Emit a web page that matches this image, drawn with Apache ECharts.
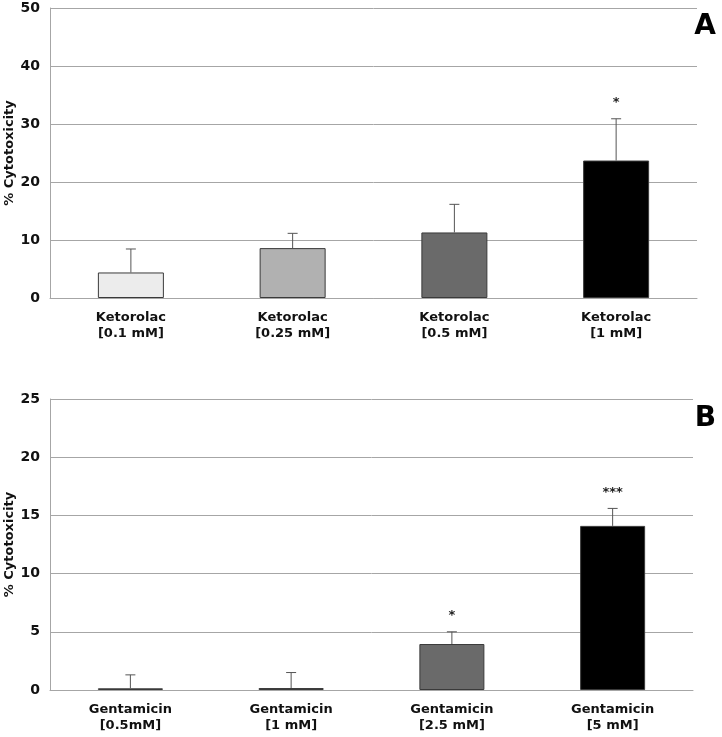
<!DOCTYPE html>
<html>
<head>
<meta charset="utf-8">
<script src="https://cdn.jsdelivr.net/npm/echarts@6/dist/echarts.min.js"></script>
<style>html,body{margin:0;padding:0;background:#fff;}#c{width:722px;height:737px;}</style>
</head>
<body>
<div id="c"></div>
<script>
// Panel A
var catsA = ['Ketorolac\n[0.1 mM]', 'Ketorolac\n[0.25 mM]', 'Ketorolac\n[0.5 mM]', 'Ketorolac\n[1 mM]'];
var valsA = [4.4, 8.6, 11.3, 23.7];
var errA = [4.05, 2.55, 4.85, 7.2];
var starsA = ['', '', '', '*'];
var ticksA = [0, 10, 20, 30, 40, 50];
// Panel B
var catsB = ['Gentamicin\n[0.5mM]', 'Gentamicin\n[1 mM]', 'Gentamicin\n[2.5 mM]', 'Gentamicin\n[5 mM]'];
var valsB = [0.15, 0.17, 3.95, 14.1];
var errB = [1.15, 1.33, 1.05, 1.5];
var starsB = ['', '', '*', '***'];
var ticksB = [0, 5, 10, 15, 20, 25];
var barColors = ['#ececec', '#b1b1b1', '#6a6a6a', '#000000'];

var FONT = 'DejaVu Sans';

function barData(vals) {
  return vals.map(function (v, i) {
    return { value: v, itemStyle: { color: barColors[i] } };
  });
}
function errData(vals, errs, stars) {
  return vals.map(function (v, i) { return [i, v, v + errs[i], stars[i]]; });
}
var stars = { A: starsA, B: starsB };
function renderErr(params, api) {
  var i = api.value(0);
  var p0 = api.coord([i, api.value(1)]);
  var p1 = api.coord([i, api.value(2)]);
  var star = stars[params.seriesIndex === 1 ? 'A' : 'B'][params.dataIndex];
  var children = [
    { type: 'line', shape: { x1: p0[0], y1: p0[1], x2: p1[0], y2: p1[1] }, style: { stroke: '#555', lineWidth: 1 } },
    { type: 'line', shape: { x1: p1[0] - 5, y1: p1[1], x2: p1[0] + 5, y2: p1[1] }, style: { stroke: '#555', lineWidth: 1 } }
  ];
  if (star) {
    children.push({ type: 'text', style: { x: p1[0], y: p1[1] - 16, text: star, fill: '#222', font: 'bold 13px "' + FONT + '"', align: 'center', verticalAlign: 'middle' } });
  }
  return { type: 'group', children: children };
}

function yAxis(gi, max, interval) {
  return {
    type: 'value', gridIndex: gi, min: 0, max: max, interval: interval,
    name: '% Cytotoxicity', nameLocation: 'middle', nameGap: 34, nameMoveOverlap: false,
    nameTextStyle: { fontFamily: FONT, fontWeight: 'bold', fontSize: 13, color: '#111' },
    axisLine: { show: true, lineStyle: { color: '#a6a6a6' } },
    axisTick: { show: false },
    axisLabel: { fontFamily: FONT, fontWeight: 'bold', fontSize: 14, color: '#111', margin: 10 },
    splitLine: { lineStyle: { color: '#a6a6a6', width: 1 } }
  };
}
function xAxis(gi, cats) {
  return {
    type: 'category', gridIndex: gi, data: cats,
    axisLine: { show: true, lineStyle: { color: '#a6a6a6' } },
    axisTick: { show: false },
    axisLabel: { fontFamily: FONT, fontWeight: 'bold', fontSize: 13, color: '#111', margin: 12, lineHeight: 16 }
  };
}

var chart = echarts.init(document.getElementById('c'));
chart.setOption({
  animation: false,
  backgroundColor: '#fff',
  grid: [
    { left: 50, right: 25, top: 8, height: 290, containLabel: false, outerBoundsMode: 'none' },
    { left: 50, right: 29, top: 399, height: 291, containLabel: false, outerBoundsMode: 'none' }
  ],
  title: [
    { text: 'A', right: 1, top: 8, textStyle: { fontFamily: FONT, fontWeight: 'bold', fontSize: 28, color: '#000' } },
    { text: 'B', right: 1, top: 400, textStyle: { fontFamily: FONT, fontWeight: 'bold', fontSize: 28, color: '#000' } }
  ],
  xAxis: [xAxis(0, catsA), xAxis(1, catsB)],
  yAxis: [yAxis(0, ticksA[ticksA.length - 1], ticksA[1] - ticksA[0]), yAxis(1, ticksB[ticksB.length - 1], ticksB[1] - ticksB[0])],
  series: [
    { type: 'bar', xAxisIndex: 0, yAxisIndex: 0, data: barData(valsA), barWidth: 66, itemStyle: { borderColor: '#3a3a3a', borderWidth: 1 } },
    { type: 'custom', xAxisIndex: 0, yAxisIndex: 0, data: errData(valsA, errA, starsA), renderItem: renderErr, z: 5 },
    { type: 'bar', xAxisIndex: 1, yAxisIndex: 1, data: barData(valsB), barWidth: 65, itemStyle: { borderColor: '#3a3a3a', borderWidth: 1 } },
    { type: 'custom', xAxisIndex: 1, yAxisIndex: 1, data: errData(valsB, errB, starsB), renderItem: renderErr, z: 5 }
  ]
});
</script>
</body>
</html>
